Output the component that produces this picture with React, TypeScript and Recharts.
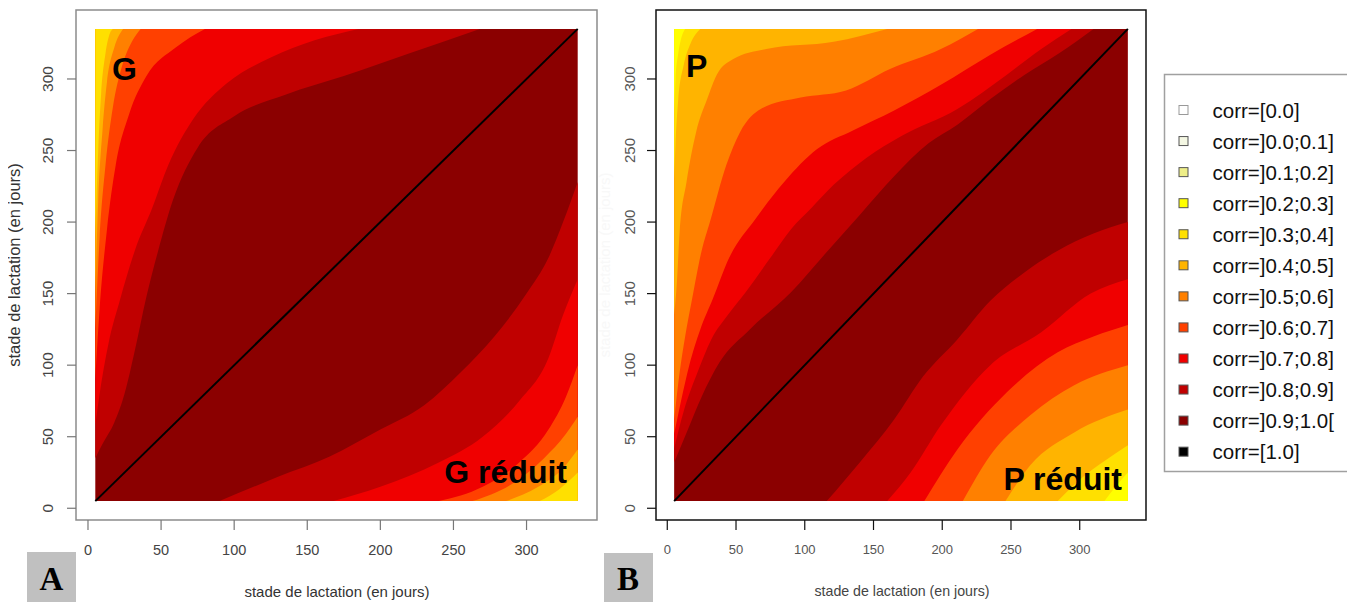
import { Area, ComposedChart, Line, ReferenceArea, XAxis, YAxis } from "recharts"

// lactation days shown on both axes
const dayTicks = [0, 50, 100, 150, 200, 250, 300]
const dayRange = [5, 335]

// legend classes and their colours (index = class)
const classLabels = [
  "corr=[0.0]",
  "corr=]0.0;0.1]",
  "corr=]0.1;0.2]",
  "corr=]0.2;0.3]",
  "corr=]0.3;0.4]",
  "corr=]0.4;0.5]",
  "corr=]0.5;0.6]",
  "corr=]0.6;0.7]",
  "corr=]0.7;0.8]",
  "corr=]0.8;0.9]",
  "corr=]0.9;1.0[",
  "corr=[1.0]",
]
const classColors = [
  "#ffffff", "#f4f7e3", "#eeee88", "#ffff00", "#ffe000", "#ffb400",
  "#ff8000", "#ff4000", "#f00000", "#c00000", "#8b0000", "#000000",
]

// contour lines (G above the diagonal, G réduit below), [day, day]
const gUp09 = [[5, 35], [10, 45], [18, 60], [25, 80], [32, 110], [40, 148], [48, 180], [58, 215], [75, 252], [100, 274], [135, 289], [175, 302], [220, 318], [268, 335]]
const gUp08 = [[5, 58], [8, 80], [14, 115], [22, 146], [32, 180], [44, 210], [55, 240], [72, 272], [95, 297], [125, 315], [155, 327], [185, 335]]
const gUp07 = [[5, 90], [8, 140], [13, 195], [19, 240], [28, 275], [40, 302], [60, 322], [80, 335]]
const gUp06 = [[5, 125], [8, 190], [12, 240], [17, 280], [23, 308], [30, 326], [36, 335]]
const gUp05 = [[5, 150], [7, 215], [10, 265], [13, 298], [18, 322], [24, 335]]
const gUp04 = [[5, 190], [7, 250], [9, 290], [12, 318], [15, 332], [17, 335]]
const gDown09 = [[90, 5], [130, 22], [165, 36], [200, 55], [230, 72], [255, 95], [278, 120], [300, 150], [315, 175], [325, 200], [335, 228]]
const gDown08 = [[168, 5], [200, 15], [240, 32], [270, 50], [295, 75], [315, 105], [325, 135], [335, 160]]
const gDown07 = [[240, 5], [270, 15], [295, 32], [315, 55], [327, 78], [335, 100]]
const gDown06 = [[263, 5], [290, 17], [312, 35], [327, 52], [335, 64]]
const gDown05 = [[286, 5], [308, 15], [325, 28], [335, 41]]
const gDown04 = [[309, 5], [322, 13], [335, 25]]

// contour lines (P above, P réduit below)
const pUp09 = [[5, 32], [15, 55], [25, 78], [38, 102], [60, 125], [90, 151], [115, 178], [140, 205], [165, 232], [190, 255], [211, 268], [235, 286], [260, 303], [285, 318], [310, 335]]
const pUp08 = [[5, 42], [12, 68], [22, 95], [32, 118], [44, 135], [57, 151], [75, 175], [90, 195], [105, 210], [121, 226], [145, 245], [170, 260], [211, 279], [247, 303], [272, 321], [294, 335]]
const pUp07 = [[5, 52], [10, 75], [16, 100], [24, 125], [33, 146], [45, 175], [64, 202], [85, 228], [109, 251], [135, 264], [165, 278], [199, 296], [235, 317], [269, 335]]
const pUp06 = [[5, 62], [9, 95], [13, 120], [18, 146], [25, 180], [31, 200], [43, 240], [53, 263], [68, 279], [97, 287], [130, 292], [162, 307], [199, 321], [226, 335]]
const pUp05 = [[5, 135], [7, 158], [9, 193], [14, 228], [21, 263], [29, 286], [36, 303], [48, 314], [72, 321], [121, 326], [160, 335]]
const pUp04 = [[5, 230], [6, 255], [8, 286], [12, 310], [17, 325], [24, 335]]
const pUp03 = [[5, 275], [6, 300], [8, 318], [10, 328], [13, 335]]
const pDown09 = [[116, 5], [140, 32], [165, 62], [186, 92], [211, 118], [235, 145], [260, 165], [284, 180], [310, 192], [335, 200]]
const pDown08 = [[160, 5], [177, 25], [199, 58], [235, 100], [272, 123], [308, 150], [335, 160]]
const pDown07 = [[187, 5], [211, 41], [247, 81], [284, 109], [310, 120], [335, 128]]
const pDown06 = [[215, 5], [235, 37], [264, 65], [296, 86], [335, 100]]
const pDown05 = [[246, 5], [264, 30], [296, 53], [335, 69]]
const pDown04 = [[284, 5], [300, 20], [318, 33], [335, 44]]
const pDown03 = [[318, 5], [326, 15], [335, 25]]

type Contour = { key: string; level: number; side: "up" | "down"; pts: number[][] }

const gContours: Contour[] = [
  { key: "u9", level: 9, side: "up", pts: gUp09 },
  { key: "u8", level: 8, side: "up", pts: gUp08 },
  { key: "u7", level: 7, side: "up", pts: gUp07 },
  { key: "u6", level: 6, side: "up", pts: gUp06 },
  { key: "u5", level: 5, side: "up", pts: gUp05 },
  { key: "u4", level: 4, side: "up", pts: gUp04 },
  { key: "d9", level: 9, side: "down", pts: gDown09 },
  { key: "d8", level: 8, side: "down", pts: gDown08 },
  { key: "d7", level: 7, side: "down", pts: gDown07 },
  { key: "d6", level: 6, side: "down", pts: gDown06 },
  { key: "d5", level: 5, side: "down", pts: gDown05 },
  { key: "d4", level: 4, side: "down", pts: gDown04 },
]

const pContours: Contour[] = [
  { key: "u9", level: 9, side: "up", pts: pUp09 },
  { key: "u8", level: 8, side: "up", pts: pUp08 },
  { key: "u7", level: 7, side: "up", pts: pUp07 },
  { key: "u6", level: 6, side: "up", pts: pUp06 },
  { key: "u5", level: 5, side: "up", pts: pUp05 },
  { key: "u4", level: 4, side: "up", pts: pUp04 },
  { key: "u3", level: 3, side: "up", pts: pUp03 },
  { key: "d9", level: 9, side: "down", pts: pDown09 },
  { key: "d8", level: 8, side: "down", pts: pDown08 },
  { key: "d7", level: 7, side: "down", pts: pDown07 },
  { key: "d6", level: 6, side: "down", pts: pDown06 },
  { key: "d5", level: 5, side: "down", pts: pDown05 },
  { key: "d4", level: 4, side: "down", pts: pDown04 },
  { key: "d3", level: 3, side: "down", pts: pDown03 },
]

// one table per panel, keyed by day; each contour becomes a range [low, high]
function buildRows(contours: Contour[]) {
  const rows = new Map<number, Record<string, any>>()
  const row = (x: number) => {
    let r = rows.get(x)
    if (!r) {
      r = { x }
      rows.set(x, r)
    }
    return r
  }
  const [lo, hi] = dayRange
  row(lo).base = [lo, hi]
  row(hi).base = [lo, hi]
  row(lo).diag = lo
  row(hi).diag = hi
  for (const c of contours) {
    for (const [x, y] of c.pts) row(x)[c.key] = c.side === "up" ? [y, hi] : [lo, y]
  }
  return [...rows.values()].sort((a, b) => a.x - b.x)
}

const sans = "'Liberation Sans', Arial, sans-serif"
const serif = "'Liberation Serif', 'Times New Roman', serif"

function Panel(props: {
  contours: Contour[]
  left: number
  width: number
  axisWidth: number
  marginRight: number
  frame: string
  tickColor: string
  labelColor: string
  xFont: number
  yFont: number
  yLabelOffset: number
}) {
  const { contours, left, width, axisWidth, marginRight, frame, tickColor, labelColor, xFont, yFont, yLabelOffset } = props
  const rows = buildRows(contours)
  const pad = (dayRange[1] - dayRange[0]) * 0.04
  const domain = [dayRange[0] - pad, dayRange[1] + pad]
  return (
    <div style={{ position: "absolute", left, top: 0 }}>
      <ComposedChart width={width} height={602} data={rows} margin={{ top: 10, right: marginRight, left: 0, bottom: 42 }}>
        <XAxis
          dataKey="x"
          type="number"
          domain={domain}
          ticks={dayTicks}
          interval={0}
          allowDataOverflow
          axisLine={false}
          tickSize={10}
          tickMargin={0}
          height={40}
          tickLine={{ stroke: tickColor, strokeWidth: 1.2 }}
          tick={(p: any) => (
            <text x={p.x} y={p.y + 19.5} textAnchor="middle" dominantBaseline="central" fontSize={xFont} fill={labelColor} fontFamily={sans}>
              {p.payload.value}
            </text>
          )}
        />
        <YAxis
          type="number"
          domain={domain}
          ticks={dayTicks}
          interval={0}
          allowDataOverflow
          axisLine={false}
          tickSize={9}
          tickMargin={0}
          width={axisWidth}
          tickLine={{ stroke: tickColor, strokeWidth: 1.2 }}
          tick={(p: any) => {
            const cx = p.x - yLabelOffset
            return (
              <text x={cx} y={p.y} transform={`rotate(-90 ${cx} ${p.y})`} textAnchor="middle" dominantBaseline="central" fontSize={yFont} fill={labelColor} fontFamily={sans}>
                {p.payload.value}
              </text>
            )
          }}
        />
        <Area dataKey="base" type="linear" connectNulls stroke="none" fill={classColors[10]} fillOpacity={1} dot={false} activeDot={false} isAnimationActive={false} />
        {contours.map((c) => (
          <Area
            key={c.key}
            dataKey={c.key}
            type="monotone"
            connectNulls
            stroke="none"
            fill={classColors[c.level]}
            fillOpacity={1}
            dot={false}
            activeDot={false}
            isAnimationActive={false}
          />
        ))}
        <Line dataKey="diag" type="linear" connectNulls stroke="#000" strokeWidth={2} dot={false} activeDot={false} isAnimationActive={false} />
        <ReferenceArea x1={domain[0]} x2={domain[1]} y1={domain[0]} y2={domain[1]} fill="none" fillOpacity={0} stroke={frame} strokeWidth={1.5} ifOverflow="visible" />
      </ComposedChart>
    </div>
  )
}

export default function App() {
  const axisTitle = "stade de lactation (en jours)"
  return (
    <div style={{ position: "relative", width: 1355, height: 602, margin: "-8px 0 0 -8px", background: "#fff", overflow: "hidden" }}>
      <Panel contours={gContours} left={0} width={612} axisWidth={76} marginRight={15} frame="#8c8c8c" tickColor="#777" labelColor="#444" xFont={14.5} yFont={15.5} yLabelOffset={19} />
      <Panel contours={pContours} left={600} width={560} axisWidth={56} marginRight={14} frame="#111" tickColor="#111" labelColor="#555" xFont={13} yFont={15} yLabelOffset={17} />
      <svg width={1355} height={602} style={{ position: "absolute", left: 0, top: 0, pointerEvents: "none" }}>
        <text x={14} y={265} transform="rotate(-90 14 265)" textAnchor="middle" dominantBaseline="central" fontSize={16.5} fill="#333" fontFamily={sans}>
          {axisTitle}
        </text>
        <text x={604} y={265} transform="rotate(-90 604 265)" textAnchor="middle" dominantBaseline="central" fontSize={15} fill="#f8f8f8" fontFamily={sans}>
          {axisTitle}
        </text>
        <text x={337} y={591} textAnchor="middle" dominantBaseline="central" fontSize={15} fill="#333" fontFamily={sans}>
          {axisTitle}
        </text>
        <text x={902} y={591} textAnchor="middle" dominantBaseline="central" fontSize={14.2} fill="#444" fontFamily={sans}>
          {axisTitle}
        </text>

        <text x={112} y={80} fontSize={32} fontWeight="bold" fontFamily={sans} fill="#000">G</text>
        <text x={567} y={483} textAnchor="end" fontSize={32} fontWeight="bold" fontFamily={sans} fill="#000">G réduit</text>
        <text x={686} y={77} fontSize={32} fontWeight="bold" fontFamily={sans} fill="#000">P</text>
        <text x={1122} y={490} textAnchor="end" fontSize={32} fontWeight="bold" fontFamily={sans} fill="#000">P réduit</text>

        <rect x={27} y={552} width={49} height={50} fill="#c0c0c0" />
        <text x={51.5} y={590} textAnchor="middle" fontSize={33} fontWeight="bold" fontFamily={serif} fill="#000">A</text>
        <rect x={604} y={553} width={49} height={49} fill="#c0c0c0" />
        <text x={628} y={590} textAnchor="middle" fontSize={33} fontWeight="bold" fontFamily={serif} fill="#000">B</text>

        <rect x={1164.5} y={74.5} width={185} height={397} fill="#fff" stroke="#a0a0a0" strokeWidth={1.5} />
        {classLabels.map((label, i) => {
          const cy = 110 + i * 31.06
          return (
            <g key={label}>
              <rect x={1179} y={cy - 4.5} width={9} height={9} fill={classColors[i]} stroke={i === 0 ? "#999" : "#555"} strokeWidth={1} />
              <text x={1212.5} y={cy} dominantBaseline="central" fontSize={20.5} fill="#111" fontFamily={sans}>
                {label}
              </text>
            </g>
          )
        })}
      </svg>
    </div>
  )
}
